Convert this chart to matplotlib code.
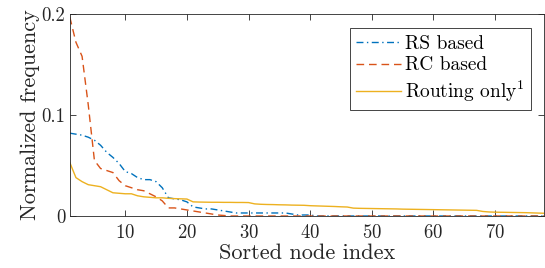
import numpy as np
import matplotlib
matplotlib.use("Agg")
from matplotlib import pyplot as plt

plt.rcParams['font.family'] = ['cmr10', 'DejaVu Serif']
plt.rcParams['mathtext.fontset'] = 'cm'
plt.rcParams['axes.formatter.use_mathtext'] = True

# sorted node index 1..78
node_idx = list(range(1, 79))

rs_based = [0.082, 0.081, 0.080, 0.078, 0.075, 0.070, 0.063, 0.058, 0.052, 0.044,
            0.042, 0.038, 0.036, 0.036, 0.034, 0.028, 0.018, 0.017, 0.016, 0.014,
            0.009, 0.008, 0.007, 0.007, 0.006, 0.005, 0.004, 0.003, 0.003, 0.003,
            0.003, 0.003, 0.003, 0.003, 0.003, 0.003, 0.002, 0.001, 0.001, 0.001,
            0.0, 0.0, 0.0, 0.0, 0.0, 0.0, 0.0, 0.0, 0.0, 0.0,
            0.0, 0.0, 0.0, 0.0, 0.0, 0.0, 0.0, 0.0, 0.0, 0.0,
            0.0, 0.0, 0.0, 0.0, 0.0, 0.0, 0.0, 0.0, 0.0, 0.0,
            0.0, 0.0, 0.0, 0.0, 0.0, 0.0, 0.0, 0.0]

rc_based = [0.197, 0.172, 0.158, 0.110, 0.055, 0.047, 0.045, 0.043, 0.035, 0.030,
            0.028, 0.026, 0.025, 0.022, 0.019, 0.015, 0.008, 0.008, 0.007, 0.006,
            0.005, 0.004, 0.003, 0.002, 0.001, 0.0005, 0.0, 0.0, 0.0, 0.0,
            0.0, 0.0, 0.0, 0.0, 0.0, 0.0, 0.0, 0.0, 0.0, 0.0,
            0.0, 0.0, 0.0, 0.0, 0.0, 0.0, 0.0, 0.0, 0.0, 0.0,
            0.0, 0.0, 0.0, 0.0, 0.0, 0.0, 0.0, 0.0, 0.0, 0.0,
            0.0, 0.0, 0.0, 0.0, 0.0, 0.0, 0.0, 0.0, 0.0, 0.0,
            0.0, 0.0, 0.0, 0.0, 0.0, 0.0, 0.0, 0.0]

routing_only = [0.053, 0.038, 0.034, 0.031, 0.030, 0.029, 0.026, 0.023, 0.0225, 0.022,
                0.022, 0.020, 0.019, 0.0185, 0.018, 0.018, 0.0175, 0.0172, 0.017, 0.0168,
                0.014, 0.0138, 0.0137, 0.0136, 0.0136, 0.0135, 0.0135, 0.0134, 0.0134, 0.0133,
                0.012, 0.0116, 0.0114, 0.0113, 0.0111, 0.0110, 0.0108, 0.0107, 0.0106, 0.0102,
                0.0100, 0.0098, 0.0096, 0.0094, 0.0091, 0.0089, 0.0078, 0.0076, 0.0075, 0.0074,
                0.0073, 0.0072, 0.0071, 0.0070, 0.0068, 0.0067, 0.0066, 0.0065, 0.0064, 0.0063,
                0.0062, 0.0061, 0.0060, 0.0059, 0.0058, 0.0057, 0.0056, 0.0045, 0.0040, 0.0038,
                0.0037, 0.0036, 0.0035, 0.0034, 0.0033, 0.0031, 0.0029, 0.0027]

fig = plt.figure(figsize=(5.45, 2.68), dpi=100)
ax = fig.add_axes([0.128, 0.194, 0.871, 0.754])

ax.plot(node_idx, rs_based, color='#0072BD', lw=1.0, dashes=(5, 2.5, 1, 2.5), label='RS based')
ax.plot(node_idx, rc_based, color='#D95319', lw=1.0, dashes=(5.5, 3.5), label='RC based')
ax.plot(node_idx, routing_only, '-', color='#EDB120', lw=1.0, label='Routing only$^1$')

ax.set_xlim(1, 78)
ax.set_ylim(0, 0.2)
ax.set_xticks([10, 20, 30, 40, 50, 60, 70])
ax.set_yticks([0, 0.1, 0.2])
ax.set_yticklabels(['0', '0.1', '0.2'])
ax.tick_params(direction='in', top=True, right=True, length=4, width=0.6,
               labelsize=13.5, colors='#262626')
ax.tick_params(axis='x', pad=6)
ax.tick_params(axis='y', pad=3)
for s in ax.spines.values():
    s.set_linewidth(0.6)
    s.set_color('#262626')

ax.set_xlabel('Sorted node index', fontsize=16, color='#262626', labelpad=1)
ax.set_ylabel('Normalized frequency', fontsize=16, color='#262626', labelpad=1)

leg = ax.legend(loc='upper right', bbox_to_anchor=(0.9727, 0.9307), borderaxespad=0,
                fontsize=14, fancybox=False, framealpha=1, edgecolor='#262626',
                handlelength=2.3, borderpad=0.35, labelspacing=0.2, handletextpad=0.2)
leg.get_frame().set_linewidth(0.6)

fig.savefig('out.png', dpi=100)
